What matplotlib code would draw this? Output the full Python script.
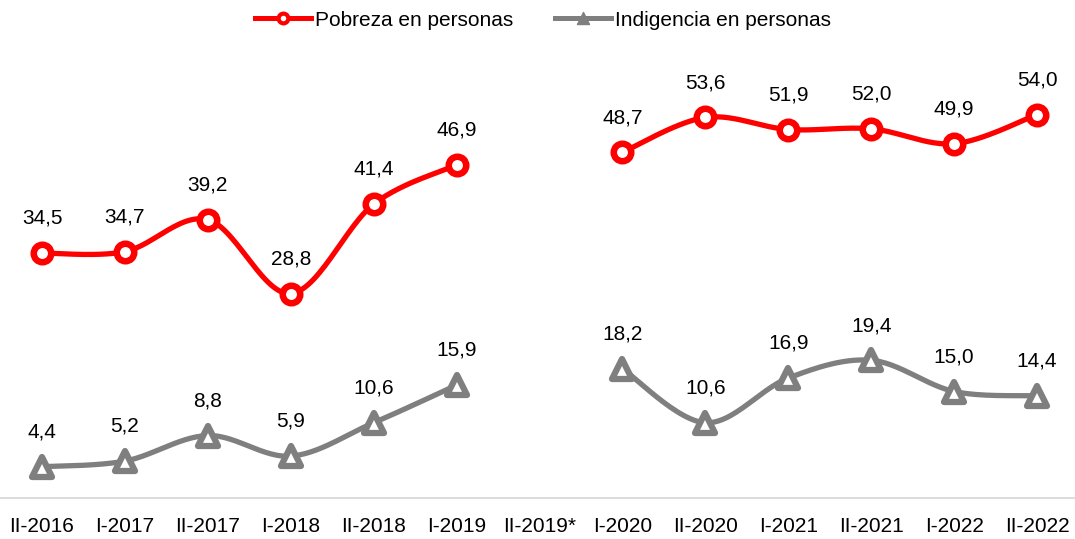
import numpy as np
import matplotlib
matplotlib.use("Agg")
import matplotlib.pyplot as plt
from matplotlib.lines import Line2D
from matplotlib.markers import MarkerStyle

plt.rcParams['font.family'] = ['Liberation Sans', 'DejaVu Sans']

periods = ["II-2016", "I-2017", "II-2017", "I-2018", "II-2018", "I-2019", "II-2019*",
           "I-2020", "II-2020", "I-2021", "II-2021", "I-2022", "II-2022"]
pobreza = [34.5, 34.7, 39.2, 28.8, 41.4, 46.9, None, 48.7, 53.6, 51.9, 52.0, 49.9, 54.0]
indigencia = [4.4, 5.2, 8.8, 5.9, 10.6, 15.9, None, 18.2, 10.6, 16.9, 19.4, 15.0, 14.4]

RED = "#FF0000"
GRAY = "#7F7F7F"
FS = 15


def smooth(xs, ys, n=30):
    # excel-like smoothed line (catmull-rom bezier) through the given points
    pts = np.column_stack([xs, ys]).astype(float)
    if len(pts) < 2:
        return pts[:, 0], pts[:, 1]
    out = []
    for i in range(len(pts) - 1):
        p0 = pts[i - 1] if i > 0 else pts[i]
        p1, p2 = pts[i], pts[i + 1]
        p3 = pts[i + 2] if i + 2 < len(pts) else pts[i + 1]
        c1 = p1 + (p2 - p0) / 6
        c2 = p2 - (p3 - p1) / 6
        t = np.linspace(0, 1, n)[:, None]
        seg = ((1 - t) ** 3) * p1 + 3 * ((1 - t) ** 2) * t * c1 + 3 * (1 - t) * t ** 2 * c2 + t ** 3 * p2
        out.append(seg)
    out = np.vstack(out)
    return out[:, 0], out[:, 1]


def draw_series(ax, vals, color, marker, ms, mew):
    x = np.arange(len(vals))
    # split into runs where there is data
    runs, cur = [], []
    for i, v in enumerate(vals):
        if v is None:
            if cur:
                runs.append(cur)
            cur = []
        else:
            cur.append(i)
    if cur:
        runs.append(cur)
    for r in runs:
        sx, sy = smooth(x[r], [vals[i] for i in r])
        ax.plot(sx, sy, color=color, lw=3.8, solid_capstyle='round', zorder=2)
        ax.plot(x[r], [vals[i] for i in r], ls='none', marker=marker, ms=ms,
                mfc='white', mec=color, mew=mew, zorder=3)
        for i in r:
            ax.annotate(f"{vals[i]:.1f}".replace(".", ","), (x[i], vals[i]),
                        xytext=(0, 25), textcoords='offset points',
                        ha='center', va='center', fontsize=FS, color='black')


fig = plt.figure(figsize=(10.75, 5.39), dpi=100)
ax = fig.add_axes([0.0, 1 - 498 / 539, 1.0, (498 - 72) / 539])

draw_series(ax, pobreza, RED, 'o', 12.6, 4.7)
draw_series(ax, indigencia, GRAY, MarkerStyle('^', joinstyle='round'), 14, 4.5)

ax.set_xlim(-0.507, 12.457)
ax.set_ylim(0, 60)
ax.set_xticks(range(len(periods)))
ax.set_xticklabels(periods, fontsize=FS)
ax.tick_params(axis='x', length=0, pad=14)
ax.set_yticks([])
for s in ['top', 'right', 'left']:
    ax.spines[s].set_visible(False)
ax.spines['bottom'].set_color('#D9D9D9')
ax.spines['bottom'].set_linewidth(1.3)

handles = [
    Line2D([], [], color=RED, lw=3.6, marker='o', ms=7, mfc='white', mec=RED, mew=3),
    Line2D([], [], color=GRAY, lw=3.6, marker=MarkerStyle('^', joinstyle='round'), ms=8,
           mfc=GRAY, mec=GRAY, mew=1),
]
fig.legend(handles, ["Pobreza en personas", "Indigencia en personas"], loc='center',
           bbox_to_anchor=(543 / 1075, 1 - 20 / 539), ncol=2, frameon=False, fontsize=FS,
           handlelength=2.7, handletextpad=0.2, columnspacing=2.0)

fig.savefig("out.png", dpi=100)
